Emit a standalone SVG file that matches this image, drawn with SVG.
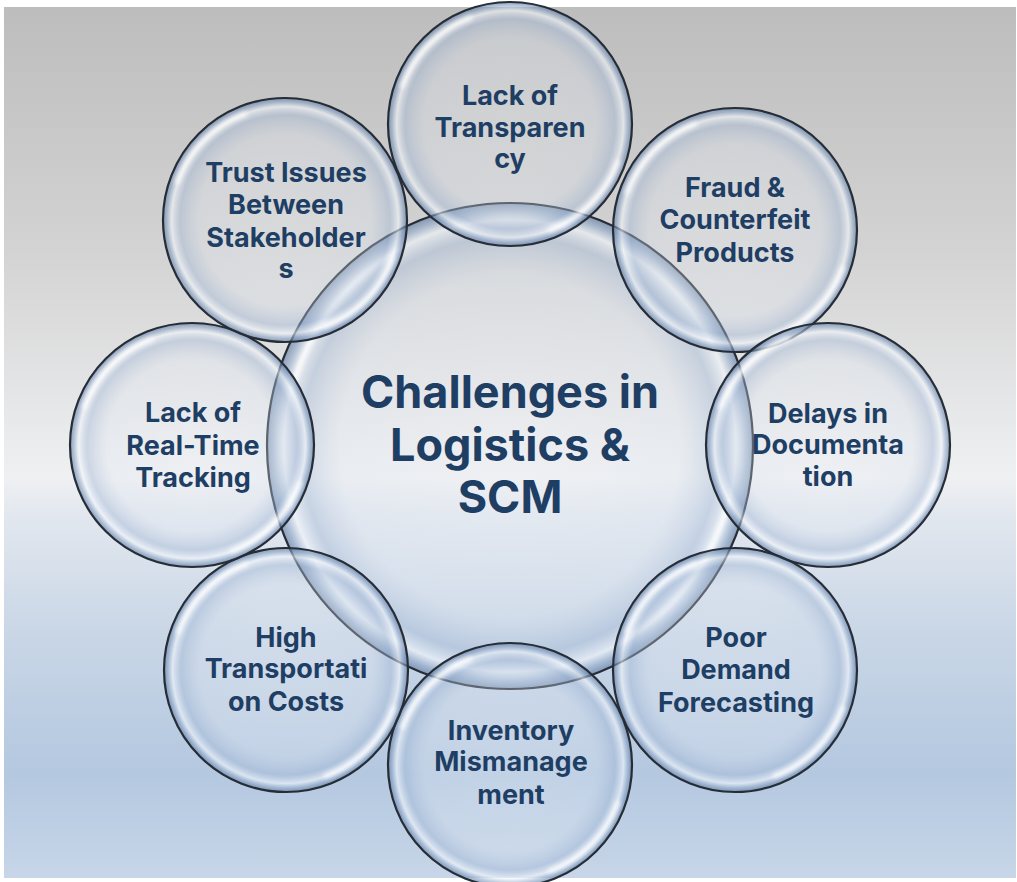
<svg xmlns="http://www.w3.org/2000/svg" width="1017" height="882" viewBox="0 0 1017 882">
  <defs>
    <!-- backdrop: grey sky fading to pale blue -->
    <linearGradient id="bg" x1="0" y1="0" x2="0" y2="1">
      <stop offset="0" stop-color="#bdbdbd"/>
      <stop offset="0.28" stop-color="#d3d3d3"/>
      <stop offset="0.54" stop-color="#eff0f2"/>
      <stop offset="0.58" stop-color="#e3e8ef"/>
      <stop offset="0.72" stop-color="#c9d6e6"/>
      <stop offset="0.88" stop-color="#b4c8e0"/>
      <stop offset="1" stop-color="#c7d6e8"/>
    </linearGradient>
    <!-- translucent soap-bubble body -->
    <radialGradient id="bubble" cx="0.5" cy="0.5" r="0.5">
      <stop offset="0" stop-color="#eef2f8" stop-opacity="0.25"/>
      <stop offset="0.7" stop-color="#dfe7f2" stop-opacity="0.3"/>
      <stop offset="0.86" stop-color="#a3b8d6" stop-opacity="0.45"/>
      <stop offset="0.93" stop-color="#f4f8fc" stop-opacity="0.6"/>
      <stop offset="0.97" stop-color="#8aa3c5" stop-opacity="0.6"/>
      <stop offset="1" stop-color="#5a769c" stop-opacity="0.65"/>
    </radialGradient>
    <filter id="soft" x="-10%" y="-10%" width="120%" height="120%">
      <feGaussianBlur stdDeviation="2"/>
    </filter>
    <style>
      .ball { fill: url(#bubble); stroke: #262d36; stroke-width: 2.2; }
      .shine { fill: none; stroke: #ffffff; stroke-width: 5; stroke-linecap: round; opacity: 0.75; filter: url(#soft); }
      .lbl { font-family: Inter, "Open Sans", "Liberation Sans", sans-serif; font-weight: 700; font-size: 27px; fill: #1f3e64; text-anchor: middle; }
      .hub { font-family: Inter, "Open Sans", "Liberation Sans", sans-serif; font-weight: 700; font-size: 45px; fill: #1f3e64; text-anchor: middle; }
    </style>
    <!-- one bubble of radius 122 centred on the origin -->
    <g id="b122">
      <circle class="ball" r="122"/>
      <path class="shine" d="M -108 -38 A 114 114 0 0 1 -40 -106"/>
      <path class="shine" d="M 108 38 A 114 114 0 0 1 40 106"/>
    </g>
  </defs>

  <rect x="0" y="0" width="1017" height="882" fill="#ffffff"/>
  <rect x="4" y="7" width="1012" height="871" fill="url(#bg)"/>

  <g id="hub">
    <circle class="ball" cx="510" cy="446" r="243"/>
    <path class="shine" d="M 295 380 A 228 228 0 0 1 400 250"/>
    <path class="shine" d="M 725 512 A 228 228 0 0 1 620 642"/>
    <text class="hub" x="510" y="408">Challenges in</text>
    <text class="hub" x="510" y="461">Logistics &amp;</text>
    <text class="hub" x="510" y="513">SCM</text>
  </g>

  <g id="transparency">
    <use href="#b122" x="510" y="124"/>
    <text class="lbl" x="510" y="105">Lack of</text>
    <text class="lbl" x="510" y="137">Transparen</text>
    <text class="lbl" x="510" y="168">cy</text>
  </g>

  <g id="fraud">
    <use href="#b122" x="735" y="230"/>
    <text class="lbl" x="735" y="197">Fraud &amp;</text>
    <text class="lbl" x="735" y="229">Counterfeit</text>
    <text class="lbl" x="735" y="262">Products</text>
  </g>

  <g id="documentation">
    <use href="#b122" x="828" y="445"/>
    <text class="lbl" x="828" y="423">Delays in</text>
    <text class="lbl" x="828" y="454">Documenta</text>
    <text class="lbl" x="828" y="486">tion</text>
  </g>

  <g id="forecasting">
    <use href="#b122" x="735" y="670"/>
    <text class="lbl" x="736" y="647">Poor</text>
    <text class="lbl" x="736" y="679">Demand</text>
    <text class="lbl" x="736" y="712">Forecasting</text>
  </g>

  <g id="inventory">
    <use href="#b122" x="510" y="765"/>
    <text class="lbl" x="511" y="740">Inventory</text>
    <text class="lbl" x="511" y="771">Mismanage</text>
    <text class="lbl" x="511" y="804">ment</text>
  </g>

  <g id="transport">
    <use href="#b122" x="286" y="670"/>
    <text class="lbl" x="286" y="647">High</text>
    <text class="lbl" x="286" y="678">Transportati</text>
    <text class="lbl" x="286" y="711">on Costs</text>
  </g>

  <g id="tracking">
    <use href="#b122" x="192" y="445"/>
    <text class="lbl" x="193" y="422">Lack of</text>
    <text class="lbl" x="193" y="455">Real-Time</text>
    <text class="lbl" x="193" y="487">Tracking</text>
  </g>

  <g id="trust">
    <use href="#b122" x="285" y="220"/>
    <text class="lbl" x="286" y="182">Trust Issues</text>
    <text class="lbl" x="286" y="214">Between</text>
    <text class="lbl" x="286" y="247">Stakeholder</text>
    <text class="lbl" x="286" y="278">s</text>
  </g>
</svg>
